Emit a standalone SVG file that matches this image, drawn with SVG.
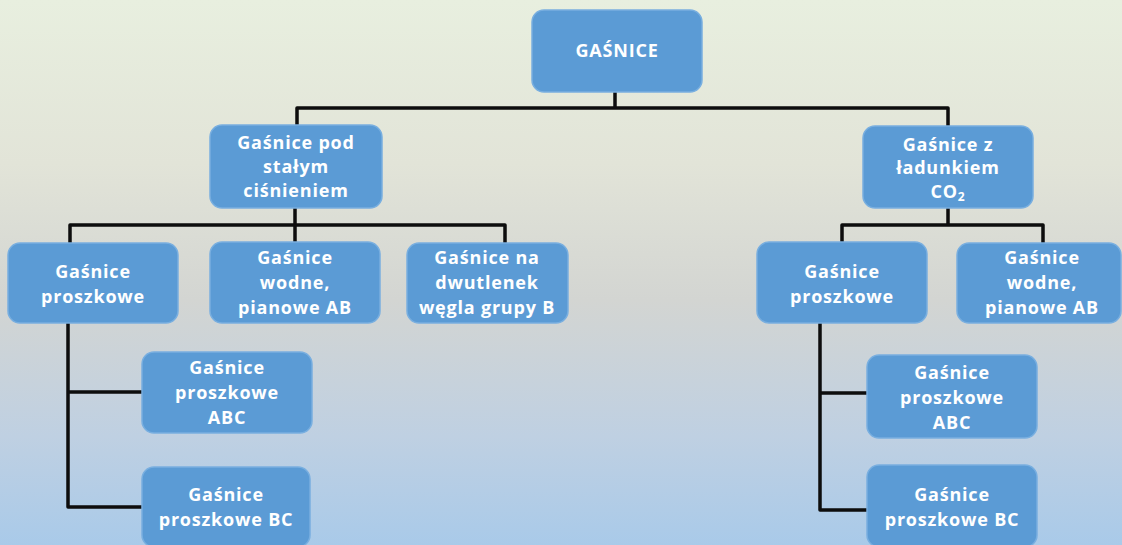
<svg xmlns="http://www.w3.org/2000/svg" width="1122" height="545" viewBox="0 0 1122 545">
<defs>
<linearGradient id="bg" x1="0" y1="0" x2="0" y2="1">
<stop offset="0" stop-color="#e8efdf"/>
<stop offset="0.3" stop-color="#e2e4d8"/>
<stop offset="0.55" stop-color="#d3d5d2"/>
<stop offset="0.8" stop-color="#bfd0e2"/>
<stop offset="1" stop-color="#a9cae9"/>
</linearGradient>
<style>
.box{fill:#5b9bd5;stroke:#79afe0;stroke-width:1.5}
.t{fill:#ffffff;font-family:"Open Sans","Liberation Sans",sans-serif;font-weight:bold;font-size:18px;letter-spacing:0.8px;text-anchor:middle}
.c{fill:none;stroke:#0d0d0d;stroke-width:3.5;stroke-linejoin:round}
</style>
</defs>
<rect width="1122" height="545" fill="url(#bg)"/>
<g id="connectors">
<path class="c" d="M615 92V108M297 126V108H948V126"/>
<path class="c" d="M295 208V225M70 243V225H505V243M295 225V243"/>
<path class="c" d="M948 208V225M842 243V225H1043V243"/>
<path class="c" d="M68 323V507H142M68 392H142"/>
<path class="c" d="M820 323V510H867M820 393H867"/>
</g>
<g id="n-root"><rect class="box" x="532" y="10" width="170" height="82" rx="12"/><text class="t" x="617" y="57">GAŚNICE</text></g>
<g id="n-stale"><rect class="box" x="210" y="125" width="172" height="83" rx="12"/><text class="t" x="296" y="149">Gaśnice pod</text><text class="t" x="296" y="173">stałym</text><text class="t" x="296" y="197">ciśnieniem</text></g>
<g id="n-co2"><rect class="box" x="863" y="126" width="170" height="82" rx="12"/><text class="t" x="948" y="151">Gaśnice z</text><text class="t" x="948" y="174">ładunkiem</text><text class="t" x="948" y="198">CO<tspan font-size="12" dy="3">2</tspan></text></g>
<g id="n-prosz-l"><rect class="box" x="8" y="243" width="170" height="80" rx="12"/><text class="t" x="93" y="278">Gaśnice</text><text class="t" x="93" y="303">proszkowe</text></g>
<g id="n-wodne-l"><rect class="box" x="210" y="242" width="170" height="81" rx="12"/><text class="t" x="295" y="264">Gaśnice</text><text class="t" x="295" y="289">wodne,</text><text class="t" x="295" y="314">pianowe AB</text></g>
<g id="n-dwut"><rect class="box" x="407" y="243" width="161" height="80" rx="12"/><text class="t" x="487" y="264">Gaśnice na</text><text class="t" x="487" y="289">dwutlenek</text><text class="t" x="487" y="314">węgla grupy B</text></g>
<g id="n-abc-l"><rect class="box" x="142" y="352" width="170" height="81" rx="12"/><text class="t" x="227" y="374">Gaśnice</text><text class="t" x="227" y="399">proszkowe</text><text class="t" x="227" y="424">ABC</text></g>
<g id="n-bc-l"><rect class="box" x="142" y="467" width="168" height="80" rx="12"/><text class="t" x="226" y="501">Gaśnice</text><text class="t" x="226" y="526">proszkowe BC</text></g>
<g id="n-prosz-r"><rect class="box" x="757" y="242" width="170" height="81" rx="12"/><text class="t" x="842" y="278">Gaśnice</text><text class="t" x="842" y="303">proszkowe</text></g>
<g id="n-wodne-r"><rect class="box" x="957" y="243" width="164" height="80" rx="12"/><text class="t" x="1042" y="264">Gaśnice</text><text class="t" x="1042" y="289">wodne,</text><text class="t" x="1042" y="314">pianowe AB</text></g>
<g id="n-abc-r"><rect class="box" x="867" y="355" width="170" height="83" rx="12"/><text class="t" x="952" y="379">Gaśnice</text><text class="t" x="952" y="404">proszkowe</text><text class="t" x="952" y="429">ABC</text></g>
<g id="n-bc-r"><rect class="box" x="867" y="465" width="170" height="82" rx="12"/><text class="t" x="952" y="501">Gaśnice</text><text class="t" x="952" y="526">proszkowe BC</text></g>
</svg>
